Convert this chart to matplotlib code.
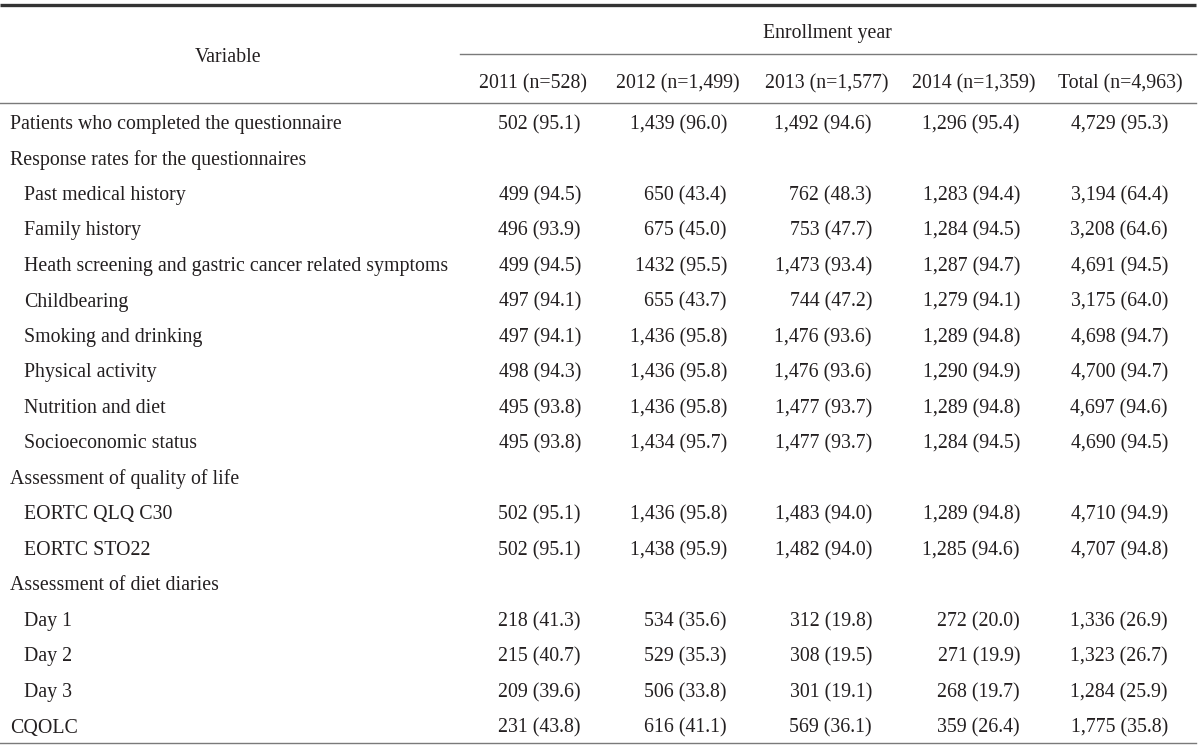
import matplotlib
matplotlib.use("Agg")
import matplotlib.pyplot as plt

plt.rcParams['font.family'] = ['Liberation Serif', 'DejaVu Serif']

group_header = "Enrollment year"
stub_header = "Variable"
col_headers = ["2011 (n=528)", "2012 (n=1,499)", "2013 (n=1,577)", "2014 (n=1,359)", "Total (n=4,963)"]

labels = [
    "Patients who completed the questionnaire",
    "Response rates for the questionnaires",
    "Past medical history",
    "Family history",
    "Heath screening and gastric cancer related symptoms",
    "Childbearing",
    "Smoking and drinking",
    "Physical activity",
    "Nutrition and diet",
    "Socioeconomic status",
    "Assessment of quality of life",
    "EORTC QLQ C30",
    "EORTC STO22",
    "Assessment of diet diaries",
    "Day 1",
    "Day 2",
    "Day 3",
    "CQOLC",
]
indented = [False, False, True, True, True, True, True, True, True, True,
            False, True, True, False, True, True, True, False]

v2011 = ["502 (95.1)", "", "499 (94.5)", "496 (93.9)", "499 (94.5)", "497 (94.1)", "497 (94.1)",
         "498 (94.3)", "495 (93.8)", "495 (93.8)", "", "502 (95.1)", "502 (95.1)", "",
         "218 (41.3)", "215 (40.7)", "209 (39.6)", "231 (43.8)"]
v2012 = ["1,439 (96.0)", "", "650 (43.4)", "675 (45.0)", "1432 (95.5)", "655 (43.7)", "1,436 (95.8)",
         "1,436 (95.8)", "1,436 (95.8)", "1,434 (95.7)", "", "1,436 (95.8)", "1,438 (95.9)", "",
         "534 (35.6)", "529 (35.3)", "506 (33.8)", "616 (41.1)"]
v2013 = ["1,492 (94.6)", "", "762 (48.3)", "753 (47.7)", "1,473 (93.4)", "744 (47.2)", "1,476 (93.6)",
         "1,476 (93.6)", "1,477 (93.7)", "1,477 (93.7)", "", "1,483 (94.0)", "1,482 (94.0)", "",
         "312 (19.8)", "308 (19.5)", "301 (19.1)", "569 (36.1)"]
v2014 = ["1,296 (95.4)", "", "1,283 (94.4)", "1,284 (94.5)", "1,287 (94.7)", "1,279 (94.1)", "1,289 (94.8)",
         "1,290 (94.9)", "1,289 (94.8)", "1,284 (94.5)", "", "1,289 (94.8)", "1,285 (94.6)", "",
         "272 (20.0)", "271 (19.9)", "268 (19.7)", "359 (26.4)"]
vtotal = ["4,729 (95.3)", "", "3,194 (64.4)", "3,208 (64.6)", "4,691 (94.5)", "3,175 (64.0)", "4,698 (94.7)",
          "4,700 (94.7)", "4,697 (94.6)", "4,690 (94.5)", "", "4,710 (94.9)", "4,707 (94.8)", "",
          "1,336 (26.9)", "1,323 (26.7)", "1,284 (25.9)", "1,775 (35.8)"]

W, H = 1200, 747
fig = plt.figure(figsize=(12, 7.47), dpi=100)
ax = fig.add_axes([0, 0, 1, 1])
ax.set_xlim(0, W)
ax.set_ylim(H, 0)
ax.axis('off')

txt = '#231f20'
rule = '#7a7a7a'
fs = 14.3

# rules
ax.plot([0, 1196], [4.5, 4.5], color='#333333', lw=2.4, solid_capstyle='butt')
ax.plot([460, 1196], [54, 54], color=rule, lw=1.0)
ax.plot([0, 1196], [103, 103], color=rule, lw=1.0)
ax.plot([0, 1196], [743, 743], color=rule, lw=1.0)

ax.text(228, 62, stub_header, ha='center', va='baseline', fontsize=fs, color=txt)
ax.text(827.5, 38, group_header, ha='center', va='baseline', fontsize=fs, color=txt)

header_centers = [533, 678, 827, 973.5, 1120]
for cx, h in zip(header_centers, col_headers):
    ax.text(cx, 88, h, ha='center', va='baseline', fontsize=fs, color=txt)

right_edges = [581, 727, 872, 1020, 1168]
cols = [v2011, v2012, v2013, v2014, vtotal]
y0, dy = 129, 35.5
for i, lab in enumerate(labels):
    y = y0 + dy * i
    ax.text(24 if indented[i] else 10, y, lab, ha='left', va='baseline', fontsize=fs, color=txt)
    for rx, col in zip(right_edges, cols):
        if col[i]:
            ax.text(rx, y, col[i], ha='right', va='baseline', fontsize=fs, color=txt)

fig.savefig('out.png', dpi=100)
